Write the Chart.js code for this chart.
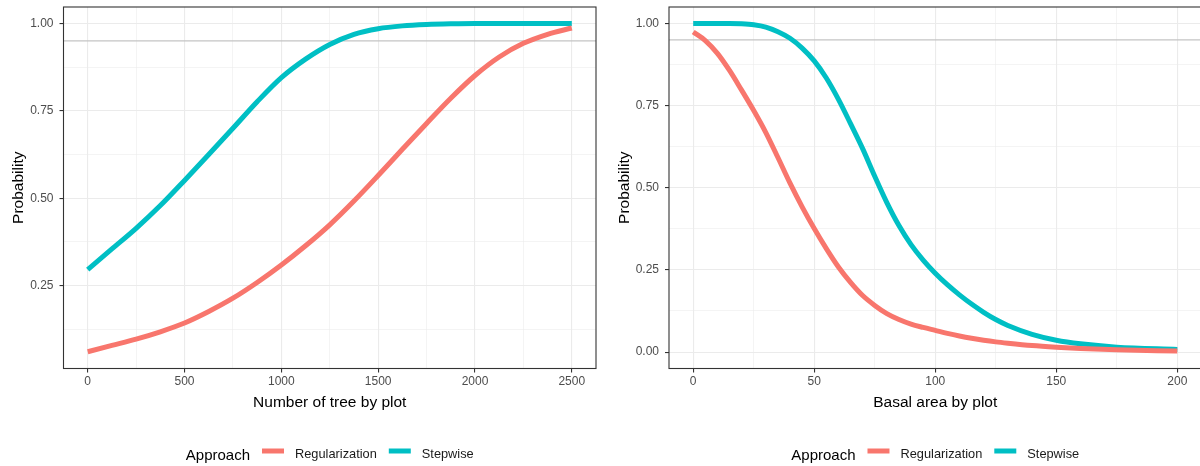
<!DOCTYPE html>
<html>
<head>
<meta charset="utf-8">
<script src="https://cdn.jsdelivr.net/npm/chart.js@4.4.0/dist/chart.umd.min.js"></script>
<style>
  html, body { margin: 0; padding: 0; background: #fff; overflow: hidden; }
  #wrap { position: relative; width: 1200px; height: 466px; overflow: hidden; }
  #treeChart { position: absolute; left: 0; top: 0; }
  #basalChart { position: absolute; left: 600px; top: 0; }
</style>
</head>
<body>
<div id="wrap">
  <canvas id="treeChart" width="600" height="466"></canvas>
  <canvas id="basalChart" width="604" height="466"></canvas>
</div>
<script>
// ---- data ----
const seriesNames = ["Regularization", "Stepwise"];
const seriesColors = ["#F8766D", "#00BFC4"];
const legendTitle = "Approach";
const yTitle = "Probability";
const cutoff = 0.95;

// left panel: number of trees
const treeX = [0, 125, 250, 375, 500, 625, 750, 875, 1000, 1125, 1250, 1375, 1500, 1625, 1750, 1875, 2000, 2125, 2250, 2375, 2500];
const treeReg = [0.061, 0.079, 0.097, 0.118, 0.143, 0.176, 0.214, 0.259, 0.309, 0.364, 0.424, 0.492, 0.565, 0.640, 0.714, 0.786, 0.851, 0.904, 0.943, 0.969, 0.987];
const treeStep = [0.296, 0.355, 0.414, 0.479, 0.551, 0.625, 0.700, 0.776, 0.845, 0.898, 0.940, 0.969, 0.985, 0.993, 0.997, 0.999, 1.000, 1.000, 1.000, 1.000, 1.000];
const treeXMajor = [0, 500, 1000, 1500, 2000, 2500];
const treeXMinor = [250, 750, 1250, 1750, 2250];
const treeYMajor = [0.25, 0.50, 0.75, 1.00];
const treeYMinor = [0.125, 0.375, 0.625, 0.875];

// right panel: basal area
const basalX = [0, 5, 10, 15, 20, 25, 30, 35, 40, 45, 50, 55, 60, 65, 70, 75, 80, 85, 90, 95, 100, 105, 110, 115, 120, 125, 130, 140, 150, 160, 175, 200];
const basalReg = [0.974, 0.948, 0.909, 0.857, 0.797, 0.735, 0.668, 0.592, 0.514, 0.442, 0.376, 0.315, 0.259, 0.212, 0.172, 0.142, 0.117, 0.099, 0.085, 0.075, 0.066, 0.057, 0.049, 0.042, 0.036, 0.031, 0.027, 0.020, 0.015, 0.011, 0.007, 0.003];
const basalStep = [1.000, 1.000, 1.000, 1.000, 0.999, 0.996, 0.989, 0.975, 0.955, 0.925, 0.886, 0.834, 0.769, 0.695, 0.619, 0.535, 0.455, 0.385, 0.327, 0.280, 0.240, 0.205, 0.174, 0.146, 0.121, 0.099, 0.081, 0.054, 0.036, 0.025, 0.015, 0.008];
const basalXMajor = [0, 50, 100, 150, 200];
const basalXMinor = [25, 75, 125, 175];
const basalYMajor = [0, 0.25, 0.50, 0.75, 1.00];
const basalYMinor = [0.125, 0.375, 0.625, 0.875];

const FONT = '"Liberation Sans", Arial, sans-serif';
Chart.defaults.font.family = FONT;

// grey line at the cutoff, under the curves
const cutoffLine = {
    id: "cutoffLine",
    beforeDatasetsDraw(chart) {
        const a = chart.chartArea;
        const y = chart.scales.y.getPixelForValue(cutoff);
        const ctx = chart.ctx;
        ctx.save();
        ctx.strokeStyle = "#C4C4C4";
        ctx.lineWidth = 1.2;
        ctx.beginPath();
        ctx.moveTo(a.left, y);
        ctx.lineTo(a.right, y);
        ctx.stroke();
        ctx.restore();
    }
};

// panel border + legend row at the bottom
const panelExtras = {
    id: "panelExtras",
    afterDatasetsDraw(chart) {
        const a = chart.chartArea;
        const ctx = chart.ctx;
        ctx.save();
        ctx.strokeStyle = "#333333";
        ctx.lineWidth = 1.1;
        ctx.strokeRect(a.left, a.top, a.right - a.left, a.bottom - a.top);
        ctx.restore();
    },
    afterDraw(chart) {
        const a = chart.chartArea;
        const ctx = chart.ctx;
        ctx.save();
        ctx.font = "15px " + FONT;
        const titleW = ctx.measureText(legendTitle).width;
        ctx.font = "12.8px " + FONT;
        const items = chart.data.datasets.map(ds => ({
            label: ds.label,
            color: ds.borderColor,
            w: ctx.measureText(ds.label).width
        }));
        const keyW = 22;
        let total = titleW;
        items.forEach(it => { total += 12 + keyW + 11 + it.w; });
        let x = (a.left + a.right) / 2 - total / 2;

        ctx.fillStyle = "#000";
        ctx.textBaseline = "alphabetic";
        ctx.font = "15px " + FONT;
        ctx.fillText(legendTitle, x, 460);
        x += titleW;
        ctx.font = "12.8px " + FONT;
        items.forEach(it => {
            x += 12;
            ctx.strokeStyle = it.color;
            ctx.lineWidth = 5;
            ctx.beginPath();
            ctx.moveTo(x, 451);
            ctx.lineTo(x + keyW, 451);
            ctx.stroke();
            x += keyW + 11;
            ctx.fillStyle = "#1a1a1a";
            ctx.fillText(it.label, x, 457.5);
            x += it.w;
        });
        ctx.restore();
    }
};

function makeChart(id, opts) {
    const xTicks = opts.xMajor.concat(opts.xMinor).sort((a, b) => a - b);
    const yTicks = opts.yMajor.concat(opts.yMinor).sort((a, b) => a - b);
    const lineW = (majors) => (c) => (c.tick && majors.includes(c.tick.value) ? 1.1 : 0.55);
    const tickCol = (majors) => (c) => (c.tick && majors.includes(c.tick.value) ? "#333333" : "rgba(0,0,0,0)");

    return new Chart(document.getElementById(id), {
        type: "line",
        data: {
            datasets: [opts.reg, opts.step].map((vals, i) => ({
                label: seriesNames[i],
                data: opts.x.map((v, j) => ({ x: v, y: vals[j] })),
                borderColor: seriesColors[i],
                backgroundColor: seriesColors[i],
                borderWidth: 5,
                borderCapStyle: "butt",
                pointRadius: 0,
                cubicInterpolationMode: "monotone",
                fill: false
            }))
        },
        options: {
            responsive: false,
            devicePixelRatio: 1,
            animation: false,
            layout: { padding: opts.padding },
            plugins: {
                legend: { display: false },
                tooltip: { enabled: false }
            },
            scales: {
                x: {
                    type: "linear",
                    min: opts.xRange[0],
                    max: opts.xRange[1],
                    afterBuildTicks: s => { s.ticks = xTicks.map(v => ({ value: v })); },
                    afterFit: s => { s.height = 50; s.paddingLeft = 0; s.paddingRight = 0; },
                    border: { display: false },
                    grid: {
                        color: "#EBEBEB",
                        lineWidth: lineW(opts.xMajor),
                        tickColor: tickCol(opts.xMajor),
                        tickLength: 4,
                        tickWidth: 1.1
                    },
                    ticks: {
                        autoSkip: false,
                        maxRotation: 0,
                        padding: 2,
                        color: "#4D4D4D",
                        font: { size: 12 },
                        callback: v => (opts.xMajor.includes(v) ? String(v) : "")
                    },
                    title: {
                        display: true,
                        text: opts.xTitle,
                        color: "#000",
                        font: { size: 15.5 },
                        padding: { top: 0, bottom: 6 }
                    }
                },
                y: {
                    type: "linear",
                    min: opts.yRange[0],
                    max: opts.yRange[1],
                    afterBuildTicks: s => { s.ticks = yTicks.map(v => ({ value: v })); },
                    afterFit: s => { s.width = 54; s.paddingTop = 0; s.paddingBottom = 0; },
                    border: { display: false },
                    grid: {
                        color: "#EBEBEB",
                        lineWidth: lineW(opts.yMajor),
                        tickColor: tickCol(opts.yMajor),
                        tickLength: 4,
                        tickWidth: 1.1
                    },
                    ticks: {
                        autoSkip: false,
                        padding: 6,
                        color: "#4D4D4D",
                        font: { size: 12 },
                        callback: v => (opts.yMajor.includes(v) ? v.toFixed(2) : "")
                    },
                    title: {
                        display: true,
                        text: yTitle,
                        color: "#000",
                        font: { size: 15.5 },
                        padding: { top: 0, bottom: 0 }
                    }
                }
            }
        },
        plugins: [cutoffLine, panelExtras]
    });
}

// Number of trees
makeChart("treeChart", {
    x: treeX, reg: treeReg, step: treeStep,
    xMajor: treeXMajor, xMinor: treeXMinor,
    yMajor: treeYMajor, yMinor: treeYMinor,
    xRange: [-125, 2625], yRange: [0.013, 1.047],
    xTitle: "Number of tree by plot",
    padding: { left: 9.5, right: 4, top: 7, bottom: 47.5 }
});

// Basal area
makeChart("basalChart", {
    x: basalX, reg: basalReg, step: basalStep,
    xMajor: basalXMajor, xMinor: basalXMinor,
    yMajor: basalYMajor, yMinor: basalYMinor,
    xRange: [-10, 210], yRange: [-0.05, 1.05],
    xTitle: "Basal area by plot",
    padding: { left: 15, right: 2.5, top: 7, bottom: 47.5 }
});
</script>
</body>
</html>
